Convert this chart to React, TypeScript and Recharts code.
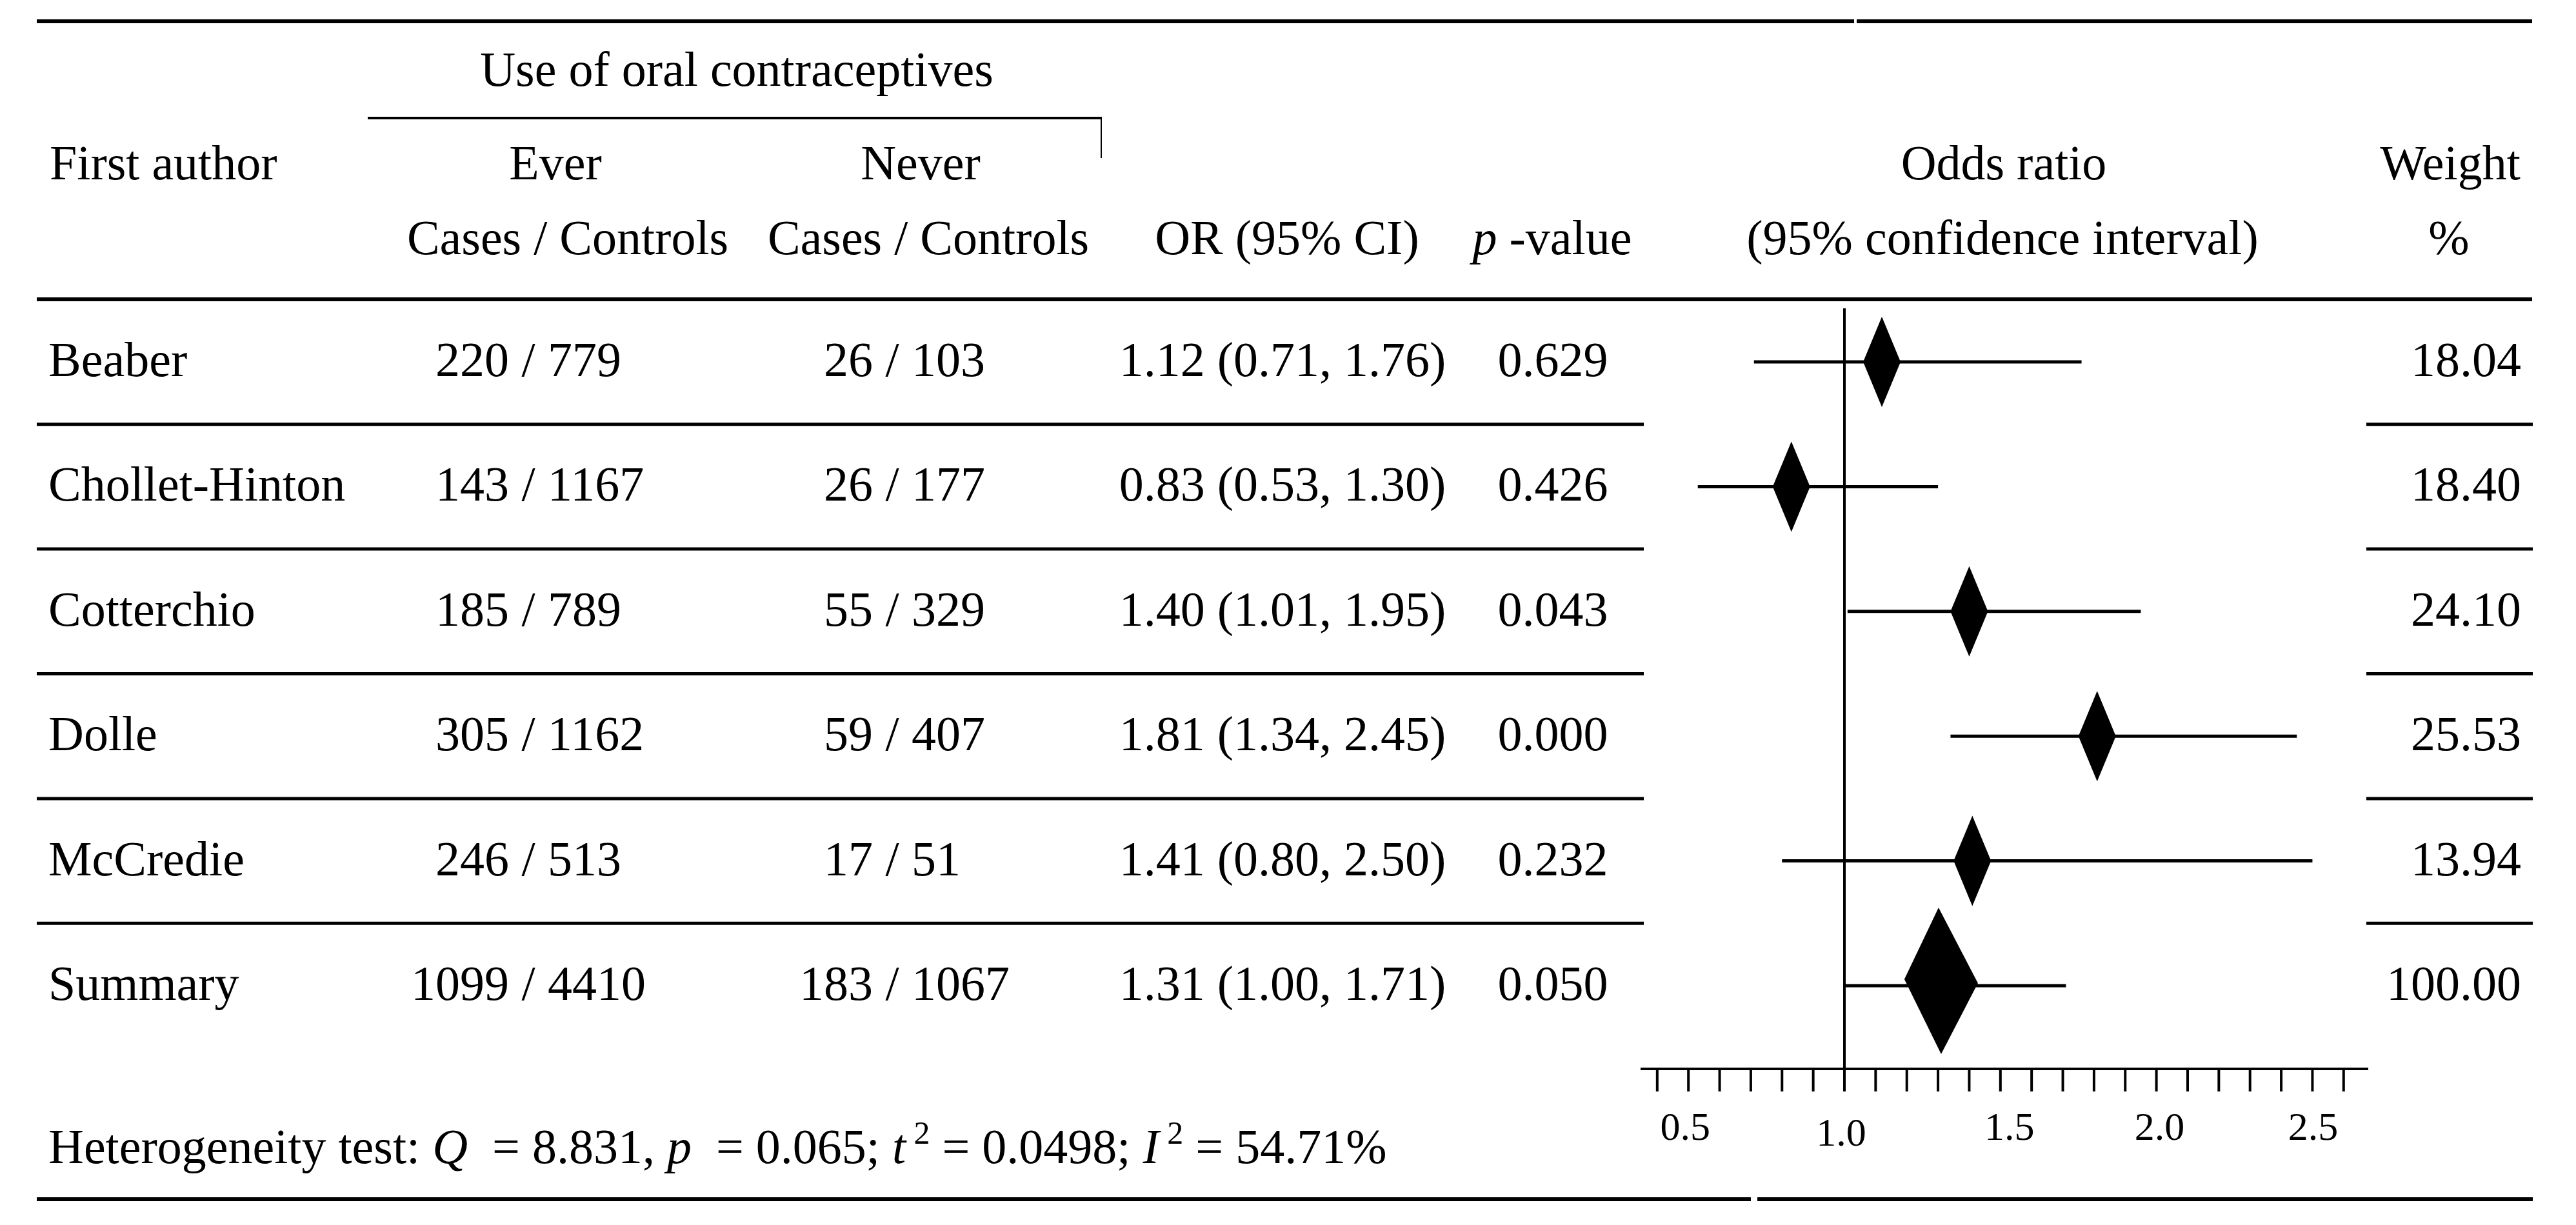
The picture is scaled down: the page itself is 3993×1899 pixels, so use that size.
import React from "react";
import { ScatterChart, Scatter, XAxis, YAxis, ReferenceLine } from "recharts";

// ---------- data ----------
const authors = ["Beaber", "Chollet-Hinton", "Cotterchio", "Dolle", "McCredie", "Summary"];
const everCases = [220, 143, 185, 305, 246, 1099];
const everControls = [779, 1167, 789, 1162, 513, 4410];
const neverCases = [26, 26, 55, 59, 17, 183];
const neverControls = [103, 177, 329, 407, 51, 1067];
const oddsRatio = [1.12, 0.83, 1.4, 1.81, 1.41, 1.31];
const ciLower = [0.71, 0.53, 1.01, 1.34, 0.8, 1.0];
const ciUpper = [1.76, 1.3, 1.95, 2.45, 2.5, 1.71];
const pValues = ["0.629", "0.426", "0.043", "0.000", "0.232", "0.050"];
const weights = ["18.04", "18.40", "24.10", "25.53", "13.94", "100.00"];
const studyRows = [0, 1, 2, 3, 4];
const summaryRow = 5;
const rowTicks = [0, 0.5, 1, 1.5, 2, 2.5, 3, 3.5, 4, 4.5, 5];
const orTicks = [0.4, 0.5, 0.6, 0.7, 0.8, 0.9, 1.0, 1.1, 1.2, 1.3, 1.4, 1.5, 1.6, 1.7, 1.8, 1.9, 2.0, 2.1, 2.2, 2.3, 2.4, 2.5, 2.6];
const orTickLabels = ["0.5", "1.0", "1.5", "2.0", "2.5"];
const heterogeneity = { Q: "8.831", p: "0.065", tau2: "0.0498", I2: "54.71%" };

const studyPoints = studyRows.map((i) => ({ or: oddsRatio[i], row: i }));
const summaryPoints = [{ or: oddsRatio[summaryRow], row: summaryRow }];

// ---------- style ----------
const W = 3993;
const H = 1899;
const FONT = "'Liberation Serif', 'Times New Roman', serif";
const FS = 76;
const labelNudge: Record<string, [number, number]> = {
  "0.5": [-5, 0],
  "1.0": [-5, 9],
  "1.5": [14, 0],
  "2.0": [5, 0],
  "2.5": [1, 0],
};

const SlashPair = ({ sx, y, a, b }: any) => (
  <g>
    <text x={sx - 30} y={y} textAnchor="end">{a}</text>
    <text x={sx} y={y} textAnchor="middle">/</text>
    <text x={sx + 30} y={y} textAnchor="start">{b}</text>
  </g>
);

const RowTick = (props: any) => {
  const { y, payload } = props;
  const v = payload.value;
  if (Math.abs(v - Math.round(v)) > 0.01) {
    return (
      <g>
        <line x1={57} x2={2548} y1={y} y2={y} stroke="#000" strokeWidth={5} />
        <line x1={3668} x2={3926} y1={y} y2={y} stroke="#000" strokeWidth={5} />
      </g>
    );
  }
  const i = Math.round(v);
  const by = y + 22;
  const orText = `${oddsRatio[i].toFixed(2)} (${ciLower[i].toFixed(2)}, ${ciUpper[i].toFixed(2)})`;
  return (
    <g fontFamily={FONT} fontSize={FS} fill="#000">
      <text x={75} y={by} textAnchor="start">{authors[i]}</text>
      <SlashPair sx={819} y={by} a={everCases[i]} b={everControls[i]} />
      <SlashPair sx={1383} y={by} a={neverCases[i]} b={neverControls[i]} />
      <text x={1988} y={by} textAnchor="middle">{orText}</text>
      <text x={2407} y={by} textAnchor="middle">{pValues[i]}</text>
      <text x={3908} y={by} textAnchor="end">{weights[i]}</text>
    </g>
  );
};

const OrTick = (props: any) => {
  const { x, y, payload } = props;
  const label = Number(payload.value).toFixed(1);
  if (!orTickLabels.includes(label)) return <g />;
  const [dx, dy] = labelNudge[label] || [0, 0];
  return (
    <text x={x + dx} y={y + 73 + dy} textAnchor="middle" fontFamily={FONT} fontSize={62} fill="#000">
      {label}
    </text>
  );
};

const StudyDiamond = (p: any) => {
  const { cx, cy } = p;
  return (
    <polygon
      points={`${cx - 29},${cy} ${cx},${cy - 70} ${cx + 29},${cy} ${cx},${cy + 70}`}
      fill="#000"
    />
  );
};

const SummaryDiamond = (p: any) => {
  const { cx, cy } = p;
  return (
    <polygon
      points={`${cx - 57},${cy - 10} ${cx - 4},${cy - 121} ${cx + 57},${cy - 4} ${cx},${cy + 106}`}
      fill="#000"
    />
  );
};

const Header = () => (
  <svg
    width={W}
    height={H}
    style={{ position: "absolute", left: 0, top: 0, pointerEvents: "none" }}
    fontFamily={FONT}
    fontSize={FS}
    fill="#000"
  >
    <line x1={57} x2={2874} y1={33} y2={33} stroke="#000" strokeWidth={6} />
    <line x1={2878} x2={3925} y1={33} y2={33} stroke="#000" strokeWidth={6} />

    <text x={1142} y={133} textAnchor="middle">Use of oral contraceptives</text>
    <line x1={570} x2={1708} y1={183} y2={183} stroke="#000" strokeWidth={4} />
    <line x1={1707} x2={1707} y1={183} y2={245} stroke="#000" strokeWidth={2} />

    <text x={77} y={278} textAnchor="start">First author</text>
    <text x={861} y={278} textAnchor="middle">Ever</text>
    <text x={1427} y={278} textAnchor="middle">Never</text>
    <text x={3106} y={278} textAnchor="middle">Odds ratio</text>
    <text x={3798} y={278} textAnchor="middle">Weight</text>

    <text x={880} y={394} textAnchor="middle">Cases / Controls</text>
    <text x={1439} y={394} textAnchor="middle">Cases / Controls</text>
    <text x={1995} y={394} textAnchor="middle">OR (95% CI)</text>
    <text x={2406} y={394} textAnchor="middle" style={{ whiteSpace: "pre" }}>
      <tspan fontStyle="italic">p</tspan>
      <tspan> -value</tspan>
    </text>
    <text x={3104} y={394} textAnchor="middle">(95% confidence interval)</text>
    <text x={3796} y={394} textAnchor="middle">%</text>

    <line x1={57} x2={3925} y1={464} y2={464} stroke="#000" strokeWidth={6} />

    <text x={75} y={1803} textAnchor="start" style={{ whiteSpace: "pre" }}>
      <tspan>Heterogeneity test: </tspan>
      <tspan fontStyle="italic">Q</tspan>
      <tspan>{`  = ${heterogeneity.Q}, `}</tspan>
      <tspan fontStyle="italic">p</tspan>
      <tspan>{`  = ${heterogeneity.p}; `}</tspan>
      <tspan fontStyle="italic">t</tspan>
      <tspan fontSize={50} dy={-30}>{" 2"}</tspan>
      <tspan dy={30}>{` = ${heterogeneity.tau2}; `}</tspan>
      <tspan fontStyle="italic">I</tspan>
      <tspan fontSize={50} dy={-30}>{" 2"}</tspan>
      <tspan dy={30}>{` = ${heterogeneity.I2}`}</tspan>
    </text>

    <line x1={57} x2={2714} y1={1859} y2={1859} stroke="#000" strokeWidth={6} />
    <line x1={2724} x2={3926} y1={1859} y2={1859} stroke="#000" strokeWidth={6} />
  </svg>
);

export default function App() {
  return (
    <div style={{ position: "relative", width: W, height: H, background: "#fff", overflow: "hidden" }}>
      <style>{"body{margin:0;background:#fff}"}</style>
      <ScatterChart
        width={W}
        height={H}
        margin={{ top: 478, right: 322, bottom: 92, left: 2533 }}
      >
        <XAxis
          type="number"
          dataKey="or"
          domain={[0.3466, 2.679]}
          allowDataOverflow
          ticks={orTicks}
          interval={0}
          tickSize={35}
          tickMargin={2}
          height={150}
          axisLine={{ stroke: "#000", strokeWidth: 4 }}
          tickLine={{ stroke: "#000", strokeWidth: 4 }}
          tick={<OrTick />}
        />
        <YAxis
          type="number"
          dataKey="row"
          domain={[-0.4292, 5.667]}
          allowDataOverflow
          reversed
          ticks={rowTicks}
          interval={0}
          width={10}
          axisLine={false}
          tickLine={false}
          tick={<RowTick />}
        />
        <ReferenceLine x={1} stroke="#000" strokeWidth={4} />
        {oddsRatio.map((_, i) => (
          <ReferenceLine
            key={`ci-${i}`}
            segment={[
              { x: ciLower[i], y: i },
              { x: ciUpper[i], y: i },
            ]}
            stroke="#000"
            strokeWidth={5}
          />
        ))}
        <Scatter data={studyPoints} shape={<StudyDiamond />} isAnimationActive={false} />
        <Scatter data={summaryPoints} shape={<SummaryDiamond />} isAnimationActive={false} />
      </ScatterChart>
      <Header />
    </div>
  );
}
